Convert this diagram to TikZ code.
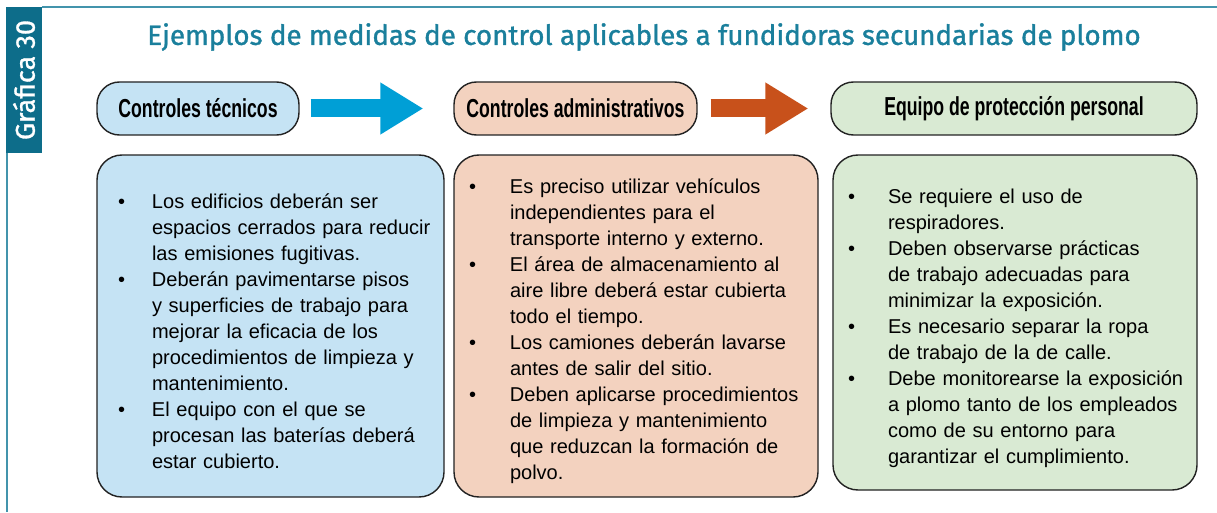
\documentclass[tikz,border=0pt]{standalone}
\usepackage{fontspec}
\setmainfont{Liberation Sans}
\newfontfamily\ttlfont{Fira Sans}[FakeBold=1.2]
\newfontfamily\hdfont{Liberation Sans}[FakeStretch=0.68]
\usetikzlibrary{arrows.meta}
\definecolor{grteal}{HTML}{0D6D8A}
\definecolor{ttlteal}{HTML}{1A7F9C}
\definecolor{frteal}{HTML}{4394AC}
\definecolor{blueb}{HTML}{C5E3F4}
\definecolor{peachb}{HTML}{F3D2BF}
\definecolor{greenb}{HTML}{D9EAD3}
\definecolor{arblue}{HTML}{009FD6}
\definecolor{arorange}{HTML}{C8511B}
\definecolor{bordr}{HTML}{222222}
\newcommand\bul[1]{\par\noindent\hangindent=#1\hangafter=1\makebox[#1][l]{\textbullet}}
\newcommand\boxset[1]{\leftskip=#1\relax\rightskip=0pt plus 1fil\relax}

\begin{document}
\begin{tikzpicture}[
 frame/.style = {draw=frteal, line width=1.1pt},
   hdr/.style = {draw=bordr, line width=0.8pt, rounded corners=0.45cm,
                 minimum height=1.06cm,
                 font=\hdfont\bfseries\fontsize{14.8pt}{16pt}\selectfont},
  body/.style args = {#1/#2}{%
                 draw=bordr, line width=0.8pt, rounded corners=0.5cm,
                 inner xsep=0pt, text width=#1, minimum width=#1,
                 minimum height=#2,
                 font=\fontsize{11.4pt}{14.8pt}\selectfont},
 bigarr/.style = {line width=0.36cm,
                 -{Triangle[length=0.86cm,width=0.98cm]}}
                    ]
\useasboundingbox (0,0) rectangle (24.34,10.24);
% side tag and frame
\node (tag) [fill=grteal, text=white, rotate=90, minimum width=2.92cm,
             minimum height=0.72cm, inner sep=0pt,
             font=\ttlfont\fontsize{15.4pt}{16pt}\selectfont] at (0.48,8.64) {Gráfica 30};
\draw[frame] (0.84,10.10) -- (24.34,10.10);
\draw[frame] (0.14,7.18) -- (0.14,0);
\node (title) [text=ttlteal, font=\ttlfont\fontsize{15.8pt}{18pt}\selectfont]
      at (12.88,9.50) {Ejemplos de medidas de control aplicables a fundidoras secundarias de plomo};
 %
\node (hd1) [hdr, fill=blueb,  minimum width=4.04cm] at ( 3.96,8.07) {Controles técnicos};
\node (hd2) [hdr, fill=peachb, minimum width=4.86cm] at (11.51,8.07) {Controles administrativos};
\node (hd3) [hdr, fill=greenb, minimum width=7.32cm] at (20.28,8.07) {Equipo de protección personal};
 %
\path   (hd1) edge[draw=arblue,   bigarr, shorten <=0.22cm, shorten >=0.60cm] (hd2)
        (hd2) edge[draw=arorange, bigarr, shorten <=0.26cm, shorten >=0.44cm] (hd3);
 %
\node (b1) [body=6.94cm/6.84cm, fill=blueb] at (5.41,3.72)
  {\boxset{0.42cm}%
   \bul{0.68cm}Los edificios deberán ser\newline espacios cerrados para reducir\newline
   las emisiones fugitivas.
   \bul{0.68cm}Deberán pavimentarse pisos\newline y superficies de trabajo para\newline
   mejorar la eficacia de los\newline procedimientos de limpieza y\newline mantenimiento.
   \bul{0.68cm}El equipo con el que se\newline procesan las baterías deberá\newline
   estar cubierto.\par};
\node (b2) [body=7.28cm/6.84cm, fill=peachb] at (12.72,3.72)
  {\boxset{0.30cm}%
   \bul{0.82cm}Es preciso utilizar vehículos\newline independientes para el\newline
   transporte interno y externo.
   \bul{0.82cm}El área de almacenamiento al\newline aire libre deberá estar cubierta\newline
   todo el tiempo.
   \bul{0.82cm}Los camiones deberán lavarse\newline antes de salir del sitio.
   \bul{0.82cm}Deben aplicarse procedimientos\newline de limpieza y mantenimiento\newline
   que reduzcan la formación de\newline polvo.\par};
\node (b3) [body=7.28cm/6.70cm, fill=greenb] at (20.30,3.79)
  {\boxset{0.30cm}%
   \bul{0.80cm}Se requiere el uso de\newline respiradores.
   \bul{0.80cm}Deben observarse prácticas\newline de trabajo adecuadas para\newline
   minimizar la exposición.
   \bul{0.80cm}Es necesario separar la ropa\newline de trabajo de la de calle.
   \bul{0.80cm}Debe monitorearse la exposición\newline a plomo tanto de los empleados\newline
   como de su entorno para\newline garantizar el cumplimiento.\par};
\end{tikzpicture}
\end{document}
